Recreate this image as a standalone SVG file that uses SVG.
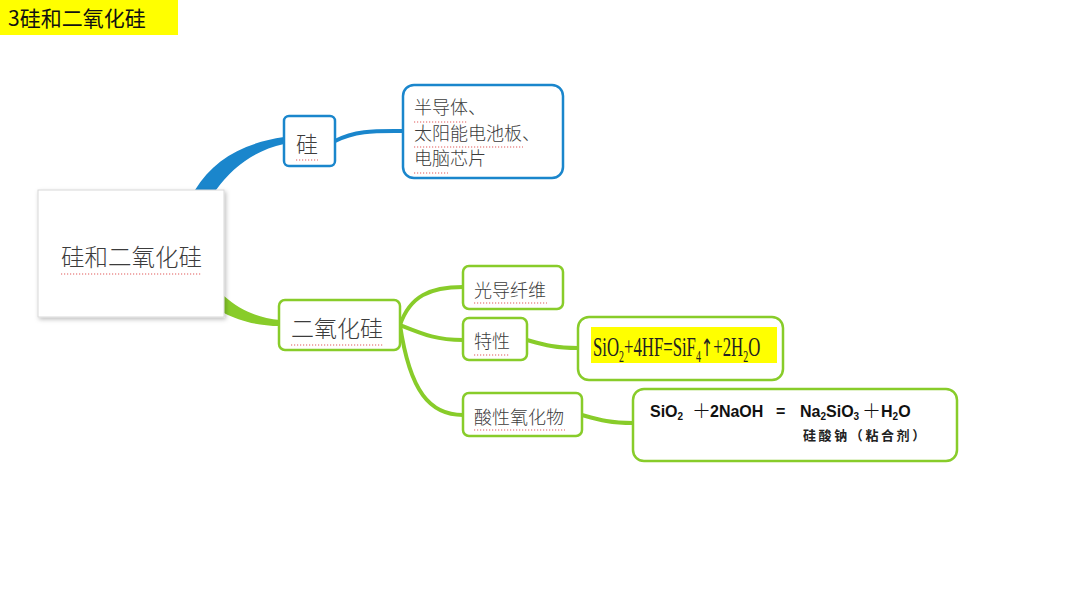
<svg xmlns="http://www.w3.org/2000/svg" width="1080" height="608" viewBox="0 0 1080 608">
<defs>
<style>
.cn{font-family:"Noto Sans CJK SC","Noto Sans",sans-serif;fill:#3c3c3c;font-weight:300}
.blue{fill:#fff;stroke:#1a86cc;stroke-width:2.5}
.green{fill:#fff;stroke:#88cc2a;stroke-width:2.5}
.ul{stroke:#e25a5a;stroke-width:1.2;stroke-dasharray:1.2 1.8;fill:none}
.cb{fill:none;stroke:#1a86cc;stroke-width:4;stroke-linecap:round}
.cg{fill:none;stroke:#88cc2a;stroke-width:4;stroke-linecap:round}
.eq{font-family:"Liberation Sans",Arial,sans-serif;font-weight:bold;font-size:16px;fill:#111}
.pl{font-family:"Noto Sans CJK SC",sans-serif;font-weight:300;font-size:19px;fill:#111}
</style>
<filter id="sh" x="-10%" y="-10%" width="125%" height="125%">
<feDropShadow dx="1.5" dy="2" stdDeviation="2" flood-color="#000" flood-opacity="0.25"/>
</filter>
</defs>
<rect width="1080" height="608" fill="#fff"/>

<g id="title">
<rect x="0" y="0" width="178" height="35" fill="#ffff00"/>
<text x="8" y="26" font-family="Noto Sans CJK SC,sans-serif" font-size="21" fill="#111">3硅和二氧化硅</text>
</g>

<g id="connectors">
<path d="M195,190 C213,160 243,143 284,137 L284,144 C256,150 233,166 216,190 Z" fill="#1a86cc"/>
<path d="M224,296 C240,310 258,318 280,320 L280,326 C256,326 238,320 224,313 Z" fill="#88cc2a"/>
<path class="cb" d="M335,141 C356,130 376,131 403,131"/>
<path class="cg" d="M400,325 C410,296 430,287 463,287"/>
<path class="cg" d="M400,325 C425,335 437,340 463,340"/>
<path class="cg" d="M400,325 C410,392 430,415 463,415"/>
<path class="cg" d="M527,340 C545,345 555,348 578,348"/>
<path class="cg" d="M582,415 C600,420 610,423 633,423"/>
</g>

<g id="root">
<rect x="38" y="190" width="186" height="127" fill="#fff" stroke="#d8d8d8" stroke-width="1" filter="url(#sh)"/>
<text class="cn" x="61" y="266" font-size="23.5">硅和二氧化硅</text>
<line class="ul" x1="61" y1="274" x2="202" y2="274"/>
</g>

<g id="si">
<rect class="blue" x="284" y="116" width="51" height="50" rx="5"/>
<text class="cn" x="296" y="152" font-size="22">硅</text>
<line class="ul" x1="296" y1="160" x2="318" y2="160"/>
</g>

<g id="si-uses">
<rect class="blue" x="403" y="85" width="160" height="93" rx="11"/>
<text class="cn" x="414" y="114" font-size="18">半导体、</text>
<text class="cn" x="414" y="140" font-size="18">太阳能电池板、</text>
<text class="cn" x="414" y="165" font-size="18">电脑芯片</text>
<line class="ul" x1="414" y1="122" x2="468" y2="122"/>
<line class="ul" x1="414" y1="147" x2="523" y2="147"/>
<line class="ul" x1="414" y1="173" x2="448" y2="173"/>
</g>

<g id="sio2">
<rect class="green" x="279" y="300" width="121" height="50" rx="6"/>
<text class="cn" x="291" y="337" font-size="23">二氧化硅</text>
<line class="ul" x1="291" y1="345" x2="383" y2="345"/>
</g>

<g id="fiber">
<rect class="green" x="463" y="266" width="100" height="43" rx="6"/>
<text class="cn" x="474" y="297" font-size="18">光导纤维</text>
<line class="ul" x1="474" y1="303" x2="547" y2="303"/>
</g>

<g id="property">
<rect class="green" x="463" y="318" width="64" height="42" rx="6"/>
<text class="cn" x="474" y="348" font-size="18">特性</text>
<line class="ul" x1="474" y1="355" x2="510" y2="355"/>
</g>

<g id="acidic">
<rect class="green" x="463" y="393" width="119" height="43" rx="6"/>
<text class="cn" x="474" y="424" font-size="18">酸性氧化物</text>
<line class="ul" x1="474" y1="430" x2="565" y2="430"/>
</g>

<g id="hf-eq">
<rect class="green" x="578" y="317" width="205" height="63" rx="11"/>
<rect x="591" y="327" width="186" height="36" fill="#ffff00"/>
<text transform="translate(593,356) scale(0.62,1)" font-family="Liberation Serif,serif" font-size="27" fill="#222">SiO<tspan font-size="16" dy="6">2</tspan><tspan dy="-6">+4HF=SiF</tspan><tspan font-size="16" dy="6">4</tspan><tspan dy="-6" font-family="DejaVu Sans,sans-serif" font-size="24">↑</tspan><tspan>+2H</tspan><tspan font-size="16" dy="6">2</tspan><tspan dy="-6">O</tspan></text>
</g>

<g id="naoh-eq">
<rect class="green" x="633" y="389" width="324" height="72" rx="11"/>
<text class="eq" x="650" y="417">SiO<tspan font-size="10" dy="3">2</tspan></text>
<text class="pl" x="692" y="418">＋</text>
<text class="eq" x="710" y="417">2NaOH</text>
<text class="eq" x="776" y="417">=</text>
<text class="eq" x="800" y="417">Na<tspan font-size="10" dy="3">2</tspan><tspan dy="-3">SiO</tspan><tspan font-size="10" dy="3">3</tspan></text>
<text class="pl" x="862" y="418">＋</text>
<text class="eq" x="881" y="417">H<tspan font-size="10" dy="3">2</tspan><tspan dy="-3">O</tspan></text>
<text x="803" y="440" font-family="Noto Sans CJK SC,sans-serif" font-weight="bold" font-size="13" letter-spacing="2.6" fill="#222">硅酸钠（粘合剂）</text>
</g>
</svg>
